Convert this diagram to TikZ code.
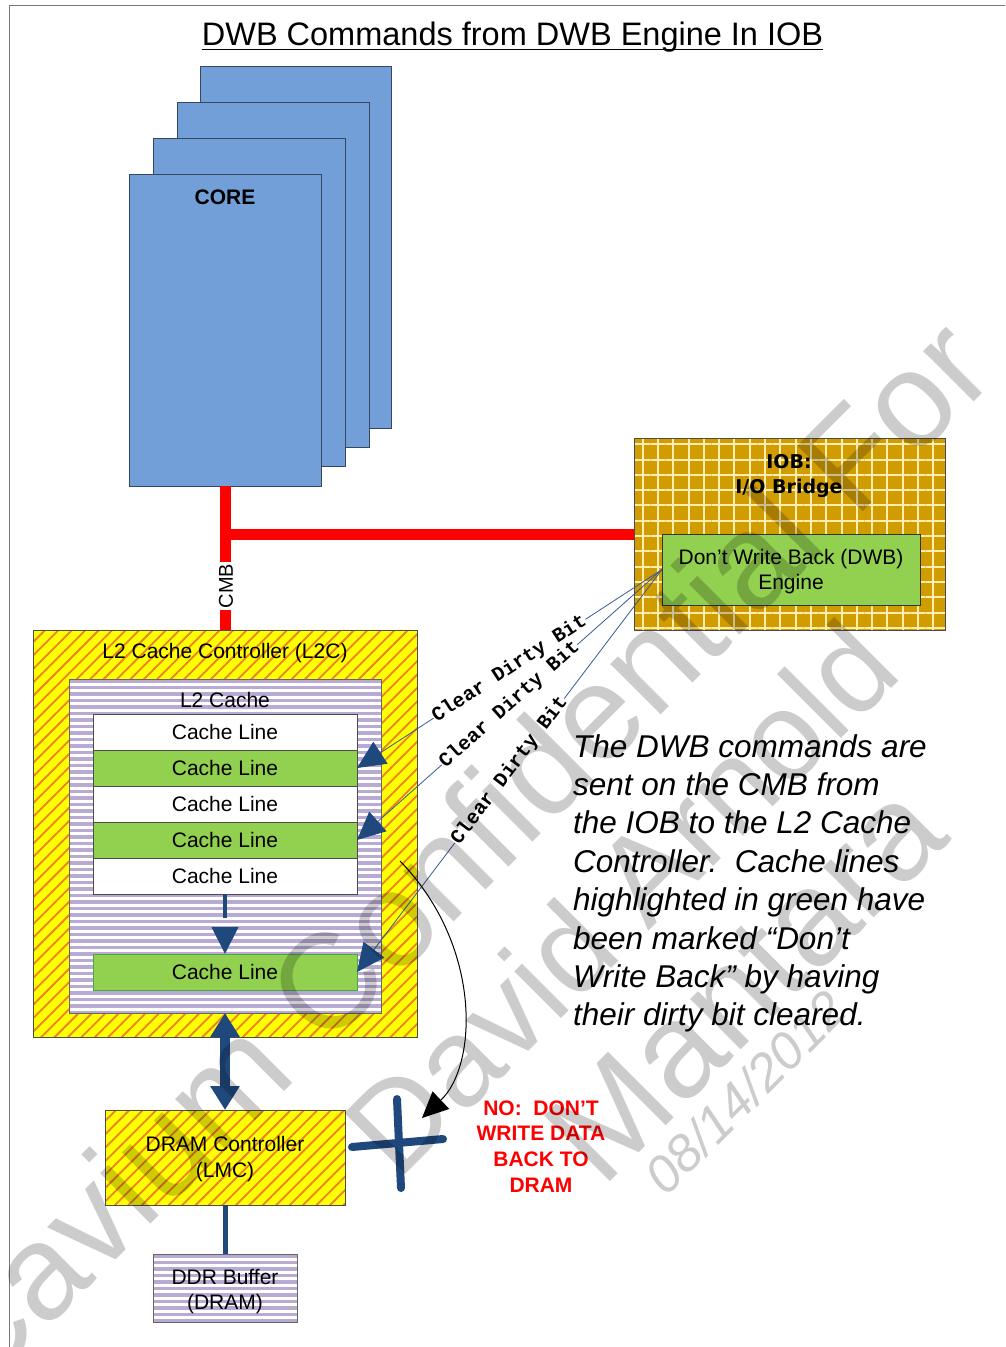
\documentclass[tikz,border=0pt]{standalone}
\usepackage{fontspec}
\setmainfont{Liberation Sans}
\newfontfamily\codefont{Liberation Mono}
\newfontfamily\iobfont{DejaVu Sans}
\usetikzlibrary{arrows.meta,patterns.meta}
\definecolor{coreblue}{RGB}{114,159,216}
\definecolor{coreedge}{RGB}{55,70,95}
\definecolor{iobgold}{RGB}{208,156,0}
\definecolor{gridcream}{RGB}{255,238,175}
\definecolor{dwbgreen}{RGB}{146,208,80}
\definecolor{hatchorange}{RGB}{236,128,40}
\definecolor{hatchyellow}{RGB}{255,255,0}
\definecolor{l2purple}{RGB}{184,170,210}
\definecolor{navy}{RGB}{31,73,125}
\definecolor{thinblue}{RGB}{55,90,150}
\definecolor{framegray}{RGB}{120,120,120}
\definecolor{alertred}{RGB}{255,0,0}
\begin{document}
\begin{tikzpicture}[x=1pt,y=-1pt,
  box/.style={draw=coreedge,line width=1pt,inner sep=0pt,outer sep=0pt},
  corebox/.style={box,fill=coreblue},
  hatchbox/.style={box,draw=black!70,preaction={fill=hatchyellow},pattern={Lines[angle=45,distance=9.5pt,line width=1.8pt]},pattern color=hatchorange},
  stripebox/.style={box,draw=black!60,fill=white,
    path picture={\foreach \k in {0,...,56}{\draw[l2purple,line width=3.2pt]
      ([yshift=-\k*6.5pt-2pt]path picture bounding box.north west) -- ([yshift=-\k*6.5pt-2pt]path picture bounding box.north east);}}},
  gridbox/.style={box,draw=black!70,preaction={fill=iobgold},pattern={Hatch[angle=0,distance=15.3pt,line width=2pt]},pattern color=gridcream},
  txt/.style={font=\fontsize{21}{25.5}\selectfont,align=center,inner sep=0pt},
  cacheline/.style={box,draw=black!70,fill=white,minimum width=264pt,minimum height=36pt,txt},
  greenline/.style={cacheline,fill=dwbgreen},
  bus/.style={draw=red,line width=11pt},
  cmd/.style={draw=thinblue,line width=0.8pt,-{Triangle[length=28pt,width=26pt,color=navy]}},
  cmdlabel/.style={sloped,pos=0.5,fill=white,inner sep=0.5pt,font=\codefont\bfseries\fontsize{20}{22}\selectfont},
  wm/.style={text=black,text opacity=0.2,rotate=45,inner sep=0pt,font=\fontsize{135}{150}\selectfont},
]
\useasboundingbox (0,0) rectangle (1005,1347);
\fill[white] (0,0) rectangle (1005,1347);
% page frame
\draw[framegray,line width=1pt] (9,1347) -- (9,5) -- (1005,5);

% title
\node[anchor=base,inner sep=0pt,font=\fontsize{32.5}{38}\selectfont] (title) at (512.5,45.5) {DWB Commands from DWB Engine In IOB};
\draw[line width=1.6pt] ([yshift=-4pt]title.base west) -- ([yshift=-4pt]title.base east);

% cores
\node[corebox,minimum width=191pt,minimum height=362pt] (core4) at (296,247) {};
\node[corebox,minimum width=192pt,minimum height=345pt] (core3) at (273,274.5) {};
\node[corebox,minimum width=192pt,minimum height=328pt] (core2) at (249,302) {};
\node[corebox,minimum width=192pt,minimum height=312pt] (core1) at (225,330) {};
\node[font=\bfseries\fontsize{21}{25}\selectfont,inner sep=0pt] (corelabel) at (225,197) {CORE};

% IOB
\node[gridbox,minimum width=311pt,minimum height=192pt] (iob) at (789.5,534) {};
\node[font=\iobfont\bfseries\fontsize{19}{25}\selectfont,align=center,inner sep=0pt] (ioblabel) at (789,475.5) {IOB:\\I/O Bridge};
\node[box,draw=black!80,fill=dwbgreen,minimum width=258pt,minimum height=71pt] (dwb) at (791,569.5) {};
\node[txt] (dwblabel) at (791,571.5) {Don’t Write Back (DWB)\\Engine};

% L2C
\node[hatchbox,minimum width=384pt,minimum height=407pt] (l2c) at (225,833.5) {};
\node[txt] (l2clabel) at (225,653.5) {L2 Cache Controller (L2C)};
\node[stripebox,minimum width=312pt,minimum height=334pt] (l2) at (225,846) {};
\node[txt] (l2label) at (225,700) {L2 Cache};
\node[cacheline] (cl1) at (225,732) {Cache Line};
\node[greenline] (cl2) at (225,768) {Cache Line};
\node[cacheline] (cl3) at (225,804) {Cache Line};
\node[greenline] (cl4) at (225,840) {Cache Line};
\node[cacheline] (cl5) at (225,876) {Cache Line};
\node[greenline,draw=green!50!black!70] (cl6) at (225,972) {Cache Line};
\draw[navy,line width=4pt,dash pattern=on 24pt off 40pt,-{Triangle[length=27pt,width=26pt]}] (cl5.south) -- (cl6.north);

% DRAM side
\node[hatchbox,minimum width=240pt,minimum height=95pt] (dram) at (225,1157.5) {};
\node[txt] (dramlabel) at (225,1159) {DRAM Controller\\(LMC)};
\node[stripebox,minimum width=144pt,minimum height=68pt] (ddr) at (225,1288) {};
\node[txt] (ddrlabel) at (225,1291.5) {DDR Buffer\\(DRAM)};
\draw[navy,line width=10pt,{Triangle[length=24pt,width=28pt]}-{Triangle[length=24pt,width=28pt]}] (l2.south) -- (dram.north);
\draw[navy,line width=5pt] (dram.south) -- (ddr.north);

% CMB bus
\draw[bus] (core1.south) -- (l2c.north);
\draw[bus] (iob.west -| core1.south) -- (iob.west);
\node[fill=white,rotate=90,inner sep=2pt,font=\fontsize{20}{22}\selectfont] (cmb) at (226,586) {CMB};

% clear dirty bit commands
\draw[cmd] (dwb.west) -- node[cmdlabel] (lab3) {Clear Dirty Bit} (cl6.east);
\draw[cmd] (dwb.west) -- node[cmdlabel] (lab2) {Clear Dirty Bit} (cl4.east);
\draw[cmd] (dwb.west) -- node[cmdlabel] (lab1) {Clear Dirty Bit} (cl2.east);

% no write back
\coordinate (wbstart) at (400,861);
\coordinate (wbend) at (422,1118);
\draw[black,line width=1pt,-{Triangle[length=26pt,width=24pt]}] (wbstart) .. controls (482,945) and (478,1065) .. (wbend);
\draw[navy,line width=8pt,line cap=round] (352,1147) -- (443,1139);
\draw[navy,line width=8pt,line cap=round] (397,1099) -- (401,1188);
\node[text=alertred,font=\bfseries\fontsize{21}{25.7}\selectfont,align=center,inner sep=0pt] (nowb) at (541,1146.5) {NO:\ \ DON’T\\WRITE DATA\\BACK TO\\DRAM};

% explanation
\node[anchor=north west,inner sep=0pt,align=left,font=\itshape\fontsize{31.5}{38.4}\selectfont] (note) at (573,734) {The DWB commands are\\sent on the CMB from\\the IOB to the L2 Cache\\Controller.\ \ Cache lines\\highlighted in green have\\been marked “Don’t\\Write Back” by having\\their dirty bit cleared.};

% watermark
\node[wm] (wm1) at (453,854) {Cavium Confidential For};
\node[wm,font=\fontsize{125}{140}\selectfont] (wm2) at (620,897) {David Arnold};
\node[wm] (wm3) at (745,982) {Mantara};
\node[wm,font=\itshape\fontsize{52}{60}\selectfont] (wm4) at (745,1092) {08/14/2012};
\end{tikzpicture}
\end{document}
